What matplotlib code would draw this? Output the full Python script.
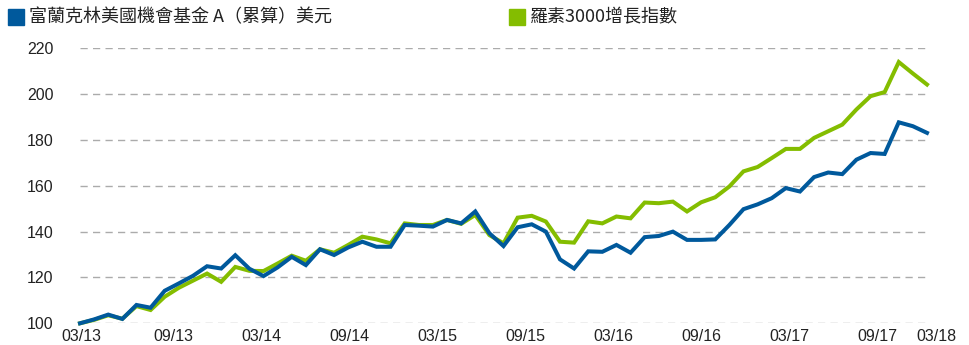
import matplotlib
matplotlib.use("Agg")
import matplotlib.pyplot as plt
from matplotlib.patches import Rectangle
import numpy as np

# Monthly growth of 100 invested, 03/2013 - 03/2018
fund_name = "富蘭克林美國機會基金 A（累算）美元"
index_name = "羅素3000增長指數"

fund = [100.0, 101.7, 103.8, 101.9, 108.0, 106.8, 114.2, 117.4, 120.7, 124.9,
        123.9, 129.7, 123.8, 120.6, 124.4, 129.0, 125.4, 132.3, 129.8, 133.1,
        135.6, 133.4, 133.4, 142.9, 142.6, 142.2, 145.1, 143.6, 148.8, 139.3,
        133.7, 141.9, 143.2, 140.0, 127.9, 123.9, 131.4, 131.2, 134.2, 130.8,
        137.6, 138.1, 140.0, 136.4, 136.4, 136.6, 142.9, 149.8, 151.9, 154.6,
        159.0, 157.5, 163.8, 165.8, 165.1, 171.4, 174.3, 173.9, 187.7, 186.0,
        183.1]

index = [100.0, 101.5, 103.5, 102.0, 107.5, 105.8, 111.6, 115.5, 118.6, 121.7,
         118.1, 124.6, 122.9, 122.8, 126.1, 129.5, 127.3, 132.3, 130.8, 134.2,
         137.8, 136.6, 134.9, 143.6, 142.9, 142.9, 145.1, 143.4, 147.3, 138.5,
         134.9, 146.1, 146.9, 144.4, 135.6, 135.2, 144.5, 143.6, 146.6, 145.8,
         152.7, 152.4, 153.1, 148.8, 152.8, 155.0, 159.7, 166.3, 168.2, 172.1,
         176.1, 176.1, 180.9, 183.8, 186.7, 193.3, 199.1, 200.9, 214.0, 209.0,
         204.2]

date_labels = ["03/13", "09/13", "03/14", "09/14", "03/15", "09/15",
               "03/16", "09/16", "03/17", "09/17", "03/18"]
y_ticks = [100, 120, 140, 160, 180, 200, 220]

blue = "#00599c"
green = "#84bd00"
text_color = "#222222"

W, H = 970, 345
fig = plt.figure(figsize=(W / 100, H / 100), dpi=100)

left, right = 80, 927
top, bottom = 48.3, 323.3
ax = fig.add_axes([left / W, 1 - bottom / H, (right - left) / W, (bottom - top) / H])

months = np.arange(len(fund))
ax.plot(months, index, color=green, lw=2.9, solid_joinstyle="miter",
        clip_on=False, zorder=3)
ax.plot(months, fund, color=blue, lw=2.9, solid_joinstyle="miter",
        clip_on=False, zorder=4)

ax.set_xlim(0, len(fund) - 1)
ax.set_ylim(100, 220)

ax.set_yticks(y_ticks)
ax.yaxis.grid(True, color="#ababab", linestyle=(0, (5.2, 3.8)), linewidth=1.0)
ax.set_axisbelow(True)
ax.tick_params(axis="y", length=0, pad=19, labelsize=11.5, labelcolor=text_color)
for lab in ax.get_yticklabels():
    lab.set_fontfamily("Liberation Sans")
ax.set_xticks([])
for s in ax.spines.values():
    s.set_visible(False)

# date labels spread evenly along the bottom, end labels kept inside the figure
centers = np.array([85 + 88 * k for k in range(len(date_labels))], dtype=float)
centers[0] = 81
centers[-1] = 936
for c, lab in zip(centers, date_labels):
    ax.text((c - left) / (right - left), -0.022, lab, transform=ax.transAxes,
            ha="center", va="top", fontsize=11.5, color=text_color,
            family="Liberation Sans", clip_on=False)

# legend row
cjk = ["Noto Sans CJK TC", "DejaVu Sans"]
fig.patches.append(Rectangle((8 / W, 1 - 25 / H), 16 / W, 16 / H,
                             transform=fig.transFigure, color=blue))
fig.text(29 / W, 1 - 17 / H, fund_name, ha="left", va="center",
         fontsize=13, color=text_color, family=cjk)
fig.patches.append(Rectangle((509 / W, 1 - 25 / H), 16 / W, 16 / H,
                             transform=fig.transFigure, color=green))
fig.text(530 / W, 1 - 17 / H, index_name, ha="left", va="center",
         fontsize=13, color=text_color, family=cjk)

fig.savefig("out.png", dpi=100)
